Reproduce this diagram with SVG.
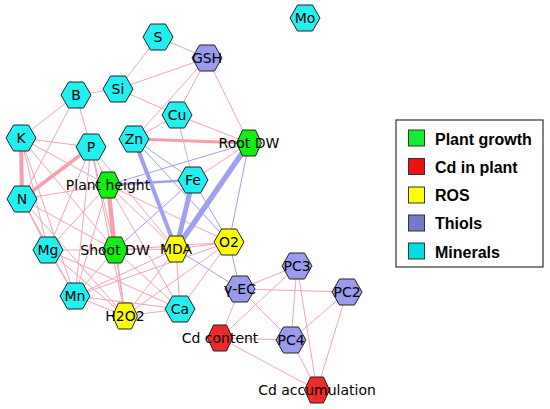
<svg xmlns="http://www.w3.org/2000/svg" xmlns:xlink="http://www.w3.org/1999/xlink" width="550" height="409" viewBox="0 0 550 409">
<style>
.e{stroke:#f4a4b4;stroke-width:1;fill:none}
.ep{stroke:#f7a0ab;fill:none}
.eb{stroke:#a0a0f0;fill:none}
.hex{stroke:#222;stroke-width:1}
.min{fill:#22f0f0}
.gr{fill:#11ee11}
.ye{fill:#ffff00}
.re{fill:#ee2a2a}
.th{fill:#9a9aee}
.lb{font-family:"DejaVu Sans",sans-serif;font-size:14px;fill:#000;text-anchor:middle}
.lg{font-family:"Liberation Sans",Arial,sans-serif;font-size:16px;font-weight:bold;fill:#000}
.sq{stroke:#333;stroke-width:1}
</style>
<defs>
<polygon id="hw" points="-15,0 -7.5,-13 7.5,-13 15,0 7.5,13 -7.5,13"/>
<polygon id="hn" points="-12.5,0 -6.5,-13 6.5,-13 12.5,0 6.5,13 -6.5,13"/>
</defs>
<rect width="550" height="409" fill="#fff"/>
<g id="connectors">
<g class="e">
<line x1="158" y1="37" x2="207" y2="58"/>
<line x1="158" y1="37" x2="118" y2="89"/>
<line x1="118" y1="89" x2="207" y2="58"/>
<line x1="118" y1="89" x2="76" y2="95"/>
<line x1="118" y1="89" x2="177" y2="115"/>
<line x1="207" y1="58" x2="177" y2="115"/>
<line x1="207" y1="58" x2="134" y2="139"/>
<line x1="207" y1="58" x2="249" y2="143"/>
<line x1="177" y1="115" x2="134" y2="139"/>
<line x1="177" y1="115" x2="249" y2="143"/>
<line x1="177" y1="115" x2="193" y2="180"/>
<line x1="249" y1="143" x2="193" y2="180"/>
<line x1="76" y1="95" x2="21" y2="138"/>
<line x1="76" y1="95" x2="91" y2="147"/>
<line x1="76" y1="95" x2="22" y2="199"/>
<line x1="21" y1="138" x2="91" y2="147"/>
<line x1="21" y1="138" x2="108" y2="185"/>
<line x1="21" y1="138" x2="48" y2="250"/>
<line x1="21" y1="138" x2="115" y2="250"/>
<line x1="21" y1="138" x2="75" y2="296"/>
<line x1="22" y1="199" x2="108" y2="185"/>
<line x1="22" y1="199" x2="48" y2="250"/>
<line x1="22" y1="199" x2="75" y2="296"/>
<line x1="22" y1="199" x2="115" y2="250"/>
<line x1="22" y1="199" x2="125" y2="316"/>
<line x1="91" y1="147" x2="108" y2="185"/>
<line x1="91" y1="147" x2="48" y2="250"/>
<line x1="91" y1="147" x2="75" y2="296"/>
<line x1="91" y1="147" x2="115" y2="250"/>
<line x1="91" y1="147" x2="125" y2="316"/>
<line x1="91" y1="147" x2="176" y2="249"/>
<line x1="108" y1="185" x2="48" y2="250"/>
<line x1="108" y1="185" x2="75" y2="296"/>
<line x1="108" y1="185" x2="125" y2="316"/>
<line x1="108" y1="185" x2="176" y2="249"/>
<line x1="108" y1="185" x2="180" y2="309"/>
<line x1="108" y1="185" x2="229" y2="242"/>
<line x1="48" y1="250" x2="115" y2="250"/>
<line x1="48" y1="250" x2="75" y2="296"/>
<line x1="48" y1="250" x2="125" y2="316"/>
<line x1="48" y1="250" x2="180" y2="309"/>
<line x1="115" y1="250" x2="75" y2="296"/>
<line x1="115" y1="250" x2="125" y2="316"/>
<line x1="115" y1="250" x2="180" y2="309"/>
<line x1="115" y1="250" x2="176" y2="249"/>
<line x1="115" y1="250" x2="229" y2="242"/>
<line x1="75" y1="296" x2="125" y2="316"/>
<line x1="75" y1="296" x2="180" y2="309"/>
<line x1="75" y1="296" x2="176" y2="249"/>
<line x1="75" y1="296" x2="229" y2="242"/>
<line x1="125" y1="316" x2="180" y2="309"/>
<line x1="125" y1="316" x2="176" y2="249"/>
<line x1="125" y1="316" x2="229" y2="242"/>
<line x1="180" y1="309" x2="176" y2="249"/>
<line x1="180" y1="309" x2="229" y2="242"/>
<line x1="176" y1="249" x2="229" y2="242"/>
<line x1="240" y1="289" x2="297" y2="266"/>
<line x1="240" y1="289" x2="347" y2="292"/>
<line x1="240" y1="289" x2="291" y2="340"/>
<line x1="240" y1="289" x2="220" y2="338"/>
<line x1="297" y1="266" x2="220" y2="338"/>
<line x1="297" y1="266" x2="291" y2="340"/>
<line x1="297" y1="266" x2="317" y2="390"/>
<line x1="347" y1="292" x2="291" y2="340"/>
<line x1="347" y1="292" x2="317" y2="390"/>
<line x1="291" y1="340" x2="220" y2="338"/>
<line x1="291" y1="340" x2="317" y2="390"/>
<line x1="220" y1="338" x2="317" y2="390"/>
</g>
<g class="eb" stroke-width="1">
<line x1="108" y1="185" x2="249" y2="143"/>
<line x1="115" y1="250" x2="193" y2="180"/>
<line x1="134" y1="139" x2="193" y2="180"/>
<line x1="134" y1="139" x2="229" y2="242"/>
<line x1="193" y1="180" x2="229" y2="242"/>
<line x1="249" y1="143" x2="229" y2="242"/>
<line x1="176" y1="249" x2="240" y2="289"/>
<line x1="229" y1="242" x2="240" y2="289"/>
</g>
<line class="eb" stroke-width="2.5" x1="108" y1="185" x2="193" y2="180"/>
<line class="eb" stroke-width="4" x1="134" y1="139" x2="176" y2="249"/>
<line class="eb" stroke-width="5" x1="193" y1="180" x2="176" y2="249"/>
<line class="eb" stroke-width="5.5" x1="249" y1="143" x2="176" y2="249"/>
<line class="ep" stroke-width="4" x1="21" y1="138" x2="22" y2="199"/>
<line class="ep" stroke-width="3.5" x1="22" y1="199" x2="91" y2="147"/>
<line class="ep" stroke-width="4.5" x1="108" y1="185" x2="115" y2="250"/>
<line class="ep" stroke-width="3" x1="134" y1="139" x2="249" y2="143"/>
</g>
<g id="node-Mo" transform="translate(305,18)"><use xlink:href="#hw" class="hex min"/><text class="lb" y="5">Mo</text></g>
<g id="node-S" transform="translate(158,37)"><use xlink:href="#hw" class="hex min"/><text class="lb" y="5">S</text></g>
<g id="node-GSH" transform="translate(207,58)"><use xlink:href="#hw" class="hex th"/><text class="lb" y="5">GSH</text></g>
<g id="node-Si" transform="translate(118,89)"><use xlink:href="#hw" class="hex min"/><text class="lb" y="5">Si</text></g>
<g id="node-B" transform="translate(76,95)"><use xlink:href="#hw" class="hex min"/><text class="lb" y="5">B</text></g>
<g id="node-Cu" transform="translate(177,115)"><use xlink:href="#hw" class="hex min"/><text class="lb" y="5">Cu</text></g>
<g id="node-K" transform="translate(21,138)"><use xlink:href="#hw" class="hex min"/><text class="lb" y="5">K</text></g>
<g id="node-Zn" transform="translate(134,139)"><use xlink:href="#hw" class="hex min"/><text class="lb" y="5">Zn</text></g>
<g id="node-P" transform="translate(91,147)"><use xlink:href="#hw" class="hex min"/><text class="lb" y="5">P</text></g>
<g id="node-RootDW" transform="translate(249,143)"><use xlink:href="#hn" class="hex gr"/><text class="lb" y="5">Root DW</text></g>
<g id="node-Fe" transform="translate(193,180)"><use xlink:href="#hw" class="hex min"/><text class="lb" y="5">Fe</text></g>
<g id="node-PlantHeight" transform="translate(108,185)"><use xlink:href="#hn" class="hex gr"/><text class="lb" y="5">Plant height</text></g>
<g id="node-N" transform="translate(22,199)"><use xlink:href="#hw" class="hex min"/><text class="lb" y="5">N</text></g>
<g id="node-Mg" transform="translate(48,250)"><use xlink:href="#hw" class="hex min"/><text class="lb" y="5">Mg</text></g>
<g id="node-ShootDW" transform="translate(115,250)"><use xlink:href="#hn" class="hex gr"/><text class="lb" y="5">Shoot DW</text></g>
<g id="node-MDA" transform="translate(176,249)"><use xlink:href="#hn" class="hex ye"/><text class="lb" y="5">MDA</text></g>
<g id="node-O2" transform="translate(229,242)"><use xlink:href="#hw" class="hex ye"/><text class="lb" y="5">O2</text></g>
<g id="node-Mn" transform="translate(75,296)"><use xlink:href="#hw" class="hex min"/><text class="lb" y="5">Mn</text></g>
<g id="node-H2O2" transform="translate(125,316)"><use xlink:href="#hn" class="hex ye"/><text class="lb" y="5">H2O2</text></g>
<g id="node-Ca" transform="translate(180,309)"><use xlink:href="#hw" class="hex min"/><text class="lb" y="5">Ca</text></g>
<g id="node-gEC" transform="translate(240,289)"><use xlink:href="#hw" class="hex th"/><text class="lb" y="5">γ-EC</text></g>
<g id="node-PC3" transform="translate(297,266)"><use xlink:href="#hw" class="hex th"/><text class="lb" y="5">PC3</text></g>
<g id="node-PC2" transform="translate(347,292)"><use xlink:href="#hw" class="hex th"/><text class="lb" y="5">PC2</text></g>
<g id="node-PC4" transform="translate(291,340)"><use xlink:href="#hw" class="hex th"/><text class="lb" y="5">PC4</text></g>
<g id="node-CdContent" transform="translate(220,338)"><use xlink:href="#hn" class="hex re"/><text class="lb" y="5">Cd content</text></g>
<g id="node-CdAccumulation" transform="translate(317,390)"><use xlink:href="#hn" class="hex re"/><text class="lb" y="5">Cd accumulation</text></g>
<g id="legend">
<rect x="396" y="120" width="147" height="147" fill="#fff" stroke="#333" stroke-width="1.2"/>
<rect class="sq" x="408.5" y="130" width="16" height="16" fill="#11ee33"/>
<text class="lg" x="435" y="145">Plant growth</text>
<rect class="sq" x="408.5" y="158.5" width="16" height="16" fill="#ee1111"/>
<text class="lg" x="435" y="173">Cd in plant</text>
<rect class="sq" x="408.5" y="187" width="16" height="16" fill="#ffff00"/>
<text class="lg" x="435" y="201">ROS</text>
<rect class="sq" x="408.5" y="215" width="16" height="16" fill="#7777cc"/>
<text class="lg" x="435" y="229">Thiols</text>
<rect class="sq" x="408.5" y="243" width="16" height="16" fill="#00dddd"/>
<text class="lg" x="435" y="258">Minerals</text>
</g>
</svg>
